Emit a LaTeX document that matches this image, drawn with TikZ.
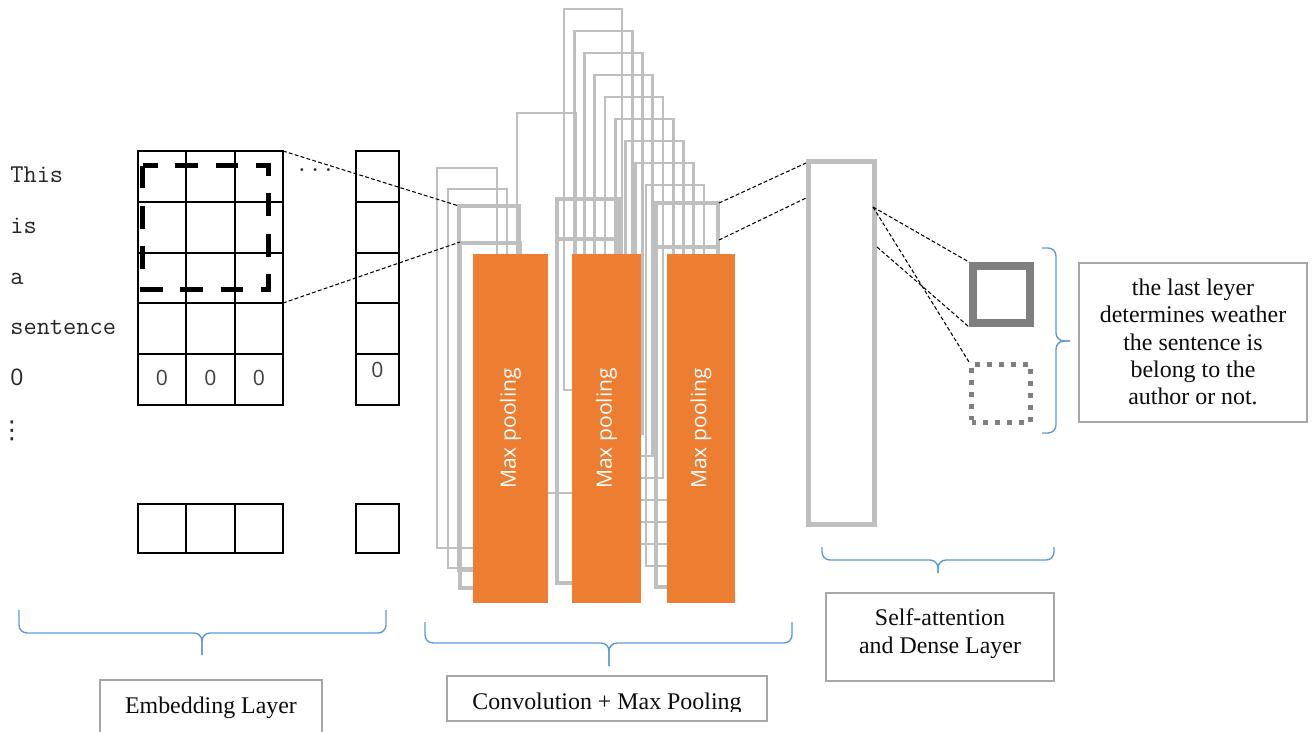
\documentclass[tikz,border=0pt]{standalone}
\usepackage{fontspec}
\setmainfont{Liberation Serif}
\newfontfamily\uifont{Open Sans}
\newfontfamily\dotfont{DejaVu Sans}

\definecolor{convgray}{HTML}{BFBFBF}
\definecolor{outgray}{HTML}{7F7F7F}
\definecolor{poolorange}{HTML}{ED7D31}
\definecolor{braceblue}{HTML}{5B9BD5}
\definecolor{boxgray}{HTML}{A6A6A6}

\tikzset{
  gridline/.style={line width=1.1pt, line cap=rect},
  window/.style={line width=2.8pt, dash pattern=on 13pt off 10pt},
  convthin/.style={draw=convgray, line width=1.5pt},
  convthick/.style={draw=convgray, line width=2.8pt},
  poolbox/.style={fill=poolorange, text=white, font=\uifont\fontsize{12}{14}\selectfont, inner sep=0pt, minimum width=6.98cm, rotate=90},
  densebox/.style={draw=convgray, line width=2.8pt, minimum width=1.32cm, minimum height=7.26cm, inner sep=0pt},
  outsolid/.style={draw=outgray, line width=4.5pt, minimum size=1.14cm, inner sep=0pt},
  outdotted/.style={draw=outgray, line width=2.8pt, dash pattern=on 2.8pt off 4pt, minimum width=1.18cm, minimum height=1.16cm, inner sep=0pt},
  linkline/.style={line width=0.6pt, dash pattern=on 2.2pt off 1.3pt},
  bracepath/.style={draw=braceblue, line width=0.8pt, rounded corners=1.6mm},
  labelbox/.style={draw=boxgray, line width=0.9pt, fill=white},
  labeltext/.style={font=\fontsize{13.6}{15.6}\selectfont, align=center, text=black!95, inner sep=0pt},
  word/.style={font=\ttfamily\fontsize{14.6}{16}\selectfont, text=black!85, anchor=base west, inner sep=0pt},
  cellzero/.style={font=\uifont\fontsize{12}{14}\selectfont, text=black!75, inner sep=0pt},
}

\begin{document}
\begin{tikzpicture}[x=0.02cm, y=-0.02cm]
\clip (0,0) rectangle (1314,731);

% input sentence
\node[word] (wThis) at (10,182) {This};
\node[word] (wIs) at (10,233) {is};
\node[word] (wA) at (10,284) {a};
\node[word] (wSent) at (10,334) {sentence};
\node[word, font=\uifont\fontsize{13}{15}\selectfont] (wZero) at (10,385) {0};
\node[word, anchor=base, font=\dotfont\fontsize{14}{16}\selectfont] (wMore) at (12,438) {⋮};

% embedding matrix
\foreach \r in {0,...,5}
  \draw[gridline] (138,151+50.8*\r) -- (283,151+50.8*\r);
\foreach \c in {0,...,3}
  \draw[gridline] (138+48.33*\c,151) -- (138+48.33*\c,405);
\foreach \r in {0,...,5}
  \draw[gridline] (356,151+50.8*\r) -- (399,151+50.8*\r);
\draw[gridline] (356,151) -- (356,405) (399,151) -- (399,405);
\draw[gridline] (138,504) rectangle (283,553);
\draw[gridline] (186.3,504) -- (186.3,553) (234.7,504) -- (234.7,553);
\draw[gridline] (356,504) rectangle (399,553);

\node[cellzero] (zA) at (162,378) {0};
\node[cellzero] (zB) at (210.5,378) {0};
\node[cellzero] (zC) at (259,378) {0};
\node[cellzero] (zD) at (377.5,370) {0};
\node[word] (gapDots) at (295,171) {...};

% filter window
\draw[window] (142.5,165.5) rectangle (268.5,289.5);

% convolution feature maps
\draw[convthin] (437,168) rectangle (497,548);
\draw[convthin] (448,189) rectangle (507,568);
\draw[convthick] (459,206) rectangle (519,570);
\draw[convthick] (460,243) rectangle (520,588);
\draw[convthin] (517,113) rectangle (576,493);
\foreach \i in {0,...,8}
  \draw[convthin] (564+10.25*\i,9+22*\i) rectangle (622+10.25*\i,390+22*\i);
\draw[convthick] (557,199) rectangle (619,583);
\draw[convthick] (557,239) -- (619,239);
\draw[convthick] (656,203) rectangle (718,587);
\draw[convthick] (656,247) -- (718,247);

% max pooling
\node[poolbox, minimum height=1.5cm] (poolA) at (510.5,428.5) {Max pooling};
\node[poolbox, minimum height=1.38cm] (poolB) at (606.5,428.5) {Max pooling};
\node[poolbox, minimum height=1.36cm] (poolC) at (701,428.5) {Max pooling};

% dense layer and output
\node[densebox] (dense) at (841.5,343) {};
\node[outsolid] (outYes) at (1001.5,294.5) {};
\node[outdotted] (outNo) at (1001,393.5) {};

% connectors
\coordinate (gridNE) at (283,151);
\coordinate (gridCut) at (283,303);
\coordinate (convInTop) at (459,206);
\coordinate (convInBar) at (460,242);
\coordinate (convOutTop) at (719,203);
\coordinate (convOutBar) at (719,240);
\coordinate (denseInTop) at (806,163);
\coordinate (denseInBar) at (806,198);
\coordinate (denseOutA) at (873,207);
\coordinate (denseOutB) at (877,247);
\draw[linkline] (gridNE) -- (convInTop);
\draw[linkline] (gridCut) -- (convInBar);
\draw[linkline] (convOutTop) -- (denseInTop);
\draw[linkline] (convOutBar) -- (denseInBar);
\draw[linkline] (denseOutA) -- (outYes.north west);
\draw[linkline] (denseOutA) -- (outNo.north west);
\draw[linkline] (denseOutB) -- (outYes.south west);

% braces
\draw[bracepath] (19,610) |- (202,633) -- (202,655);
\draw[bracepath] (386,610) |- (202,633) -- (202,655);
\draw[bracepath] (425,622) |- (609,643) -- (609,666);
\draw[bracepath] (792,622) |- (609,643) -- (609,666);
\draw[bracepath] (822,547) |- (938,560) -- (938,573);
\draw[bracepath] (1054,547) |- (938,560) -- (938,573);
\draw[bracepath] (1042,248) -| (1056,341) -- (1070,341);
\draw[bracepath] (1042,433) -| (1056,341) -- (1070,341);

% labels
\draw[labelbox] (100,680) rectangle (322,745);
\node[labeltext, anchor=base] (embLabel) at (211,713) {Embedding Layer};
\draw[labelbox] (447,676) rectangle (767,721);
\begin{scope}
  \clip (447,676) rectangle (767,711.5);
  \node[labeltext, anchor=base] (convLabel) at (607,709) {Convolution + Max Pooling};
\end{scope}
\draw[labelbox] (826,593) rectangle (1054,681);
\node[labeltext, font=\fontsize{13.6}{15.9}\selectfont] (attnLabel) at (940,634) {Self-attention\\and Dense Layer};
\draw[labelbox] (1079,263) rectangle (1307,422);
\node[labeltext] (outLabel) at (1193,342) {the last leyer\\determines weather\\the sentence is\\belong to the\\author or not.};
\end{tikzpicture}
\end{document}
